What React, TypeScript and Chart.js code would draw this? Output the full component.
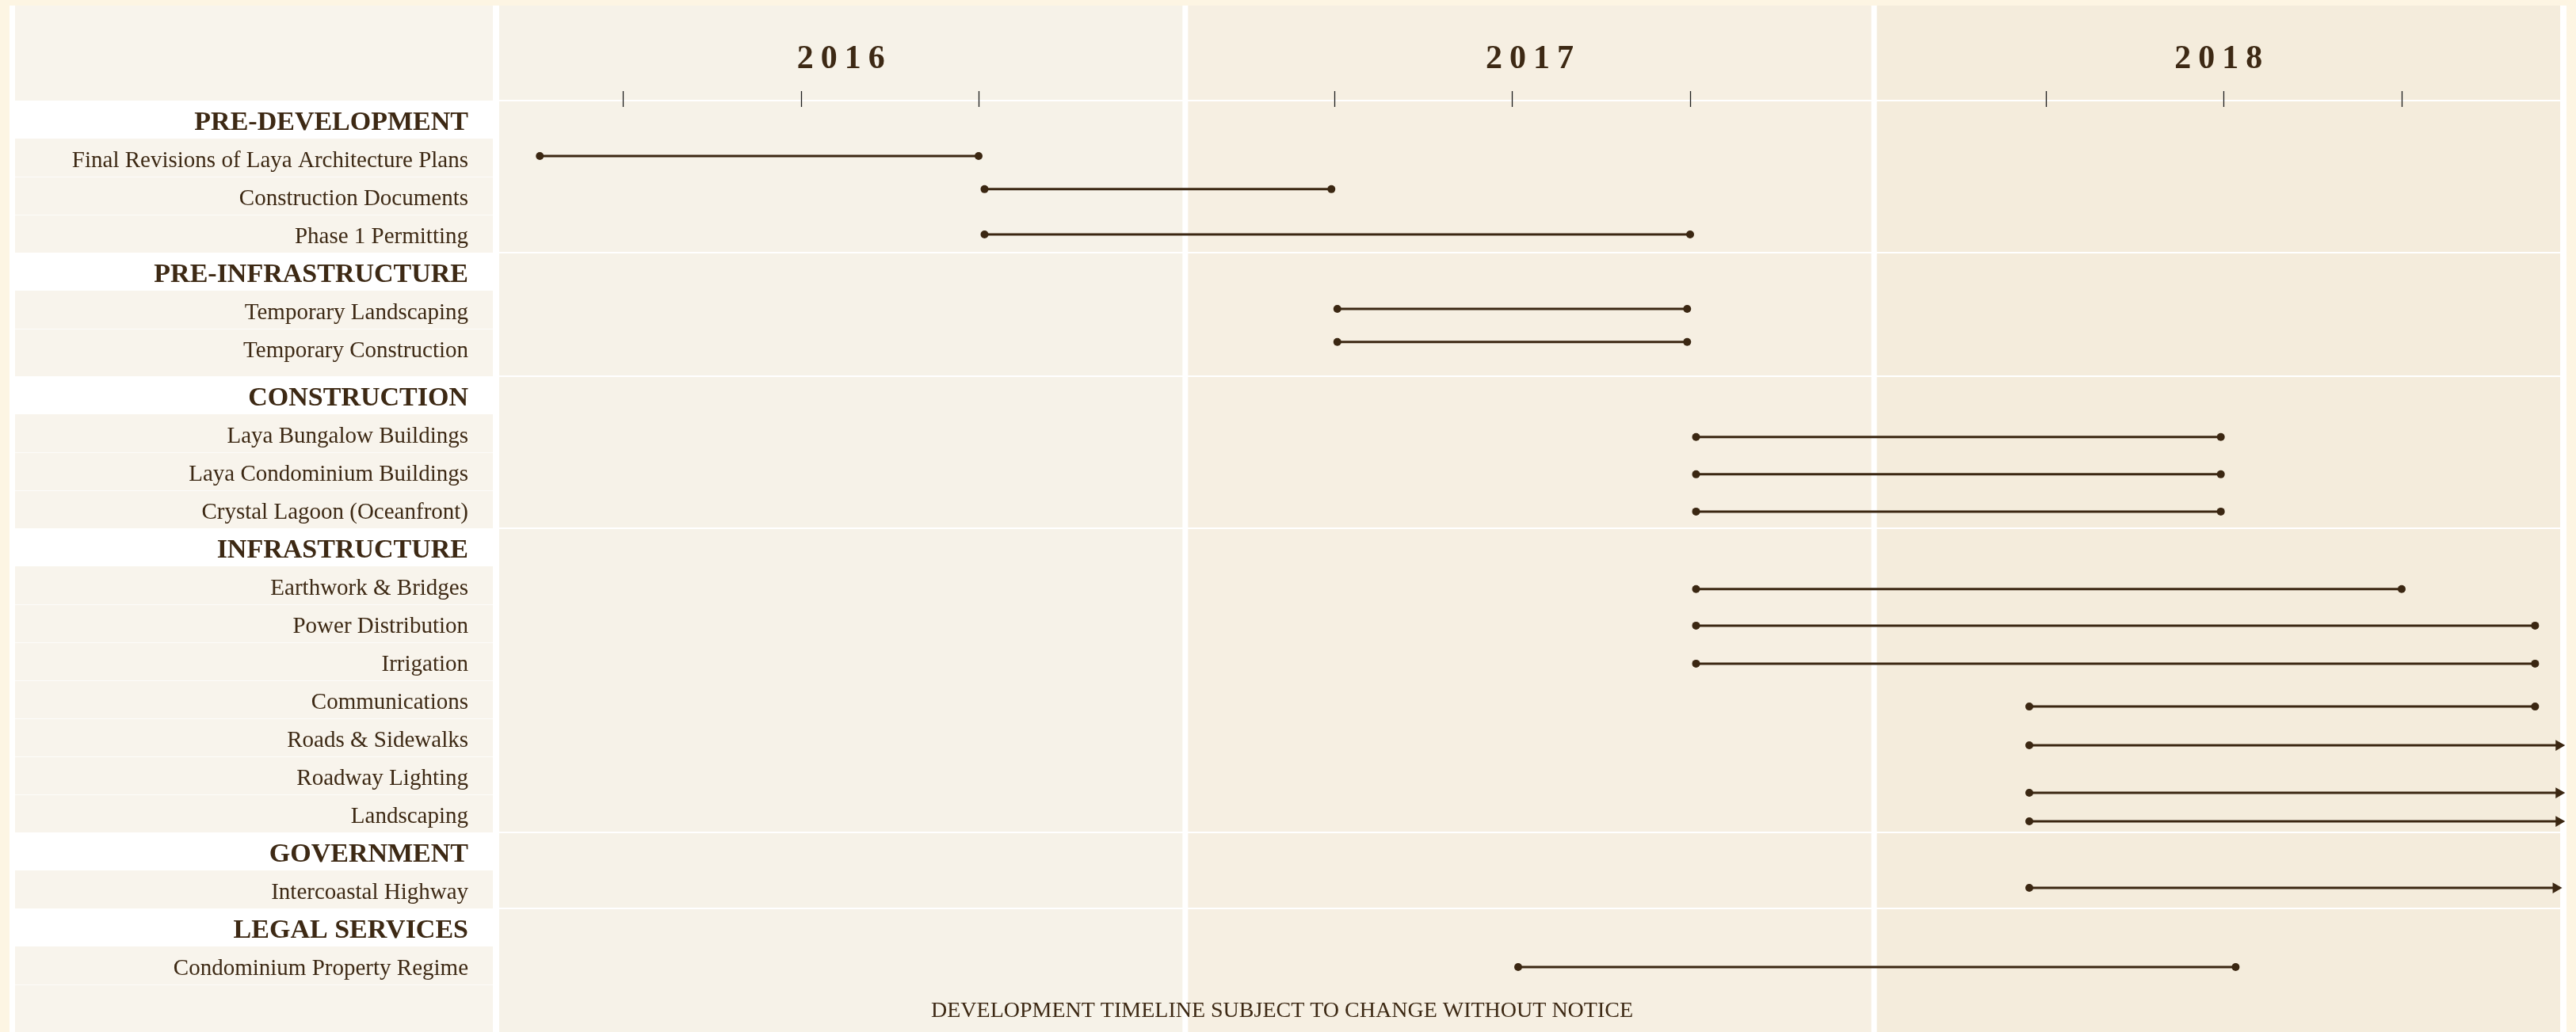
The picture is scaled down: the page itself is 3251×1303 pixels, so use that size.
import React, { useEffect, useRef } from 'react';
import { Chart, registerables } from 'chart.js';

Chart.register(...registerables);

// ---------- data ----------
const YEARS = ['2016', '2017', '2018'];

const ROW_LABELS = [
  'PRE-DEVELOPMENT',
  'Final Revisions of Laya Architecture Plans',
  'Construction Documents',
  'Phase 1 Permitting',
  'PRE-INFRASTRUCTURE',
  'Temporary Landscaping',
  'Temporary Construction',
  'CONSTRUCTION',
  'Laya Bungalow Buildings',
  'Laya Condominium Buildings',
  'Crystal Lagoon (Oceanfront)',
  'INFRASTRUCTURE',
  'Earthwork & Bridges',
  'Power Distribution',
  'Irrigation',
  'Communications',
  'Roads & Sidewalks',
  'Roadway Lighting',
  'Landscaping',
  'GOVERNMENT',
  'Intercoastal Highway',
  'LEGAL SERVICES',
  'Condominium Property Regime',
];
const ROW_IS_HEADER = [
  true, false, false, false,
  true, false, false,
  true, false, false, false,
  true, false, false, false, false, false, false, false,
  true, false,
  true, false,
];
// row centre positions (row units, 0 = top of table body)
const ROW_POS = [
  0.5, 1.5, 2.5, 3.5,
  4.5, 5.5, 6.5,
  7.75, 8.75, 9.75, 10.75,
  11.75, 12.75, 13.75, 14.75, 15.75, 16.75, 17.75, 18.75,
  19.75, 20.75,
  21.75, 22.75,
];

// time axis in months; quarter tick marks
const X_TICKS = [3, 6, 9, 15, 18, 21, 27, 30, 33];

const TASK_NAMES = [
  'Final Revisions of Laya Architecture Plans',
  'Construction Documents',
  'Phase 1 Permitting',
  'Temporary Landscaping',
  'Temporary Construction',
  'Laya Bungalow Buildings',
  'Laya Condominium Buildings',
  'Crystal Lagoon (Oceanfront)',
  'Earthwork & Bridges',
  'Power Distribution',
  'Irrigation',
  'Communications',
  'Roads & Sidewalks',
  'Roadway Lighting',
  'Landscaping',
  'Intercoastal Highway',
  'Condominium Property Regime',
];
const TASK_ROW = [1.46, 2.33, 3.52, 5.48, 6.35, 8.85, 9.83, 10.81, 12.85, 13.81, 14.81, 15.94, 16.96, 18.21, 18.96, 20.71, 22.79];
const TASK_START = [1.6, 9.1, 9.1, 15.05, 15.05, 21.1, 21.1, 21.1, 21.1, 21.1, 21.1, 26.72, 26.72, 26.72, 26.72, 26.72, 18.1];
const TASK_END = [9.0, 14.95, 21.0, 20.95, 20.95, 29.95, 29.95, 29.95, 33.0, 35.25, 35.25, 35.25, 35.65, 35.65, 35.65, 35.6, 30.2];
const TASK_ARROW = [false, false, false, false, false, false, false, false, false, false, false, false, true, true, true, true, false];

// ---------- styling ----------
const W = 3251;
const H = 1303;
const INK = '#3d2914';
const LINE = '#3b2712';
const OUTER = '#fdf5e3';
const PANEL = '#f8f4ec';
const COLS = ['#f6f2e8', '#f6efe2', '#f4ecdc'];
const SERIF = "'Liberation Serif', 'Times New Roman', serif";

const backgroundPlugin = {
  id: 'bgPanels',
  beforeDraw(chart: any) {
    const { ctx, chartArea: ca, scales } = chart;
    const y = scales.y;
    const py = (v: number) => y.getPixelForValue(v);
    ctx.save();
    ctx.fillStyle = OUTER;
    ctx.fillRect(0, 0, W, H);
    ctx.fillStyle = '#ffffff';
    ctx.fillRect(12, 7, 3239 - 12, H - 7);

    // label panel cells
    const headers = ROW_POS.filter((_, i) => ROW_IS_HEADER[i]);
    const pl = 19;
    const pr = ca.left - 8;
    ctx.fillStyle = PANEL;
    ctx.fillRect(pl, 7, pr - pl, py(headers[0] - 0.5) - 7);
    headers.forEach((h, i) => {
      const top = py(h + 0.5);
      const bot = i + 1 < headers.length ? py(headers[i + 1] - 0.5) : H;
      ctx.fillRect(pl, top, pr - pl, bot - top);
    });
    // faint row separators in label panel
    ctx.strokeStyle = 'rgba(255,255,255,0.75)';
    ctx.lineWidth = 1;
    ROW_POS.forEach((p, i) => {
      if (ROW_IS_HEADER[i]) return;
      const nextHeader = i + 1 < ROW_POS.length && ROW_IS_HEADER[i + 1];
      if (nextHeader) return;
      const yy = Math.round(py(p + 0.5)) + 0.5;
      ctx.beginPath();
      ctx.moveTo(pl, yy);
      ctx.lineTo(pr, yy);
      ctx.stroke();
    });

    // year columns
    const gap = 7;
    const colW = (ca.right - ca.left - 2 * gap) / 3;
    YEARS.forEach((yr, i) => {
      const x0 = ca.left + i * (colW + gap);
      ctx.fillStyle = COLS[i];
      ctx.fillRect(x0, 7, colW, H - 7);
    });
    // group separators across the chart area
    ctx.fillStyle = '#ffffff';
    headers.forEach((h) => {
      const yy = py(h - 0.5);
      ctx.fillRect(ca.left, yy - 1, ca.right - ca.left, 2);
    });

    // year headings
    ctx.fillStyle = INK;
    ctx.font = `bold 42px ${SERIF}`;
    ctx.textAlign = 'center';
    ctx.textBaseline = 'alphabetic';
    (ctx as any).letterSpacing = '9px';
    YEARS.forEach((yr, i) => {
      const cx = ca.left + i * (colW + gap) + colW / 2;
      ctx.fillText(yr, cx + 4.5, 86);
    });
    (ctx as any).letterSpacing = '0px';

    // footnote
    ctx.font = `28px ${SERIF}`;
    ctx.textBaseline = 'middle';
    ctx.fillText('DEVELOPMENT TIMELINE SUBJECT TO CHANGE WITHOUT NOTICE', 1618, 1277);
    ctx.restore();
  },
  afterDraw(chart: any) {
    const { ctx, scales } = chart;
    const x = scales.x;
    ctx.save();
    ctx.strokeStyle = '#1f1f1f';
    ctx.lineWidth = 1.3;
    x.ticks.forEach((t: any) => {
      const px = Math.round(x.getPixelForValue(t.value)) + 0.5;
      ctx.beginPath();
      ctx.moveTo(px, 115);
      ctx.lineTo(px, 135);
      ctx.stroke();
    });
    ctx.restore();
  },
};

export default function App() {
  const ref = useRef<HTMLCanvasElement | null>(null);

  useEffect(() => {
    const canvas = ref.current;
    if (!canvas) return;

    const datasets = TASK_NAMES.map((name, i) => ({
      label: name,
      data: [
        { x: TASK_START[i], y: TASK_ROW[i] },
        { x: TASK_END[i], y: TASK_ROW[i] },
      ],
      borderColor: LINE,
      backgroundColor: LINE,
      borderWidth: 3,
      pointBackgroundColor: LINE,
      pointBorderColor: LINE,
      pointBorderWidth: 0,
      pointRadius: TASK_ARROW[i] ? [5, 8] : [5, 5],
      pointStyle: TASK_ARROW[i] ? ['circle', 'triangle'] : ['circle', 'circle'],
      rotation: TASK_ARROW[i] ? [0, 90] : [0, 0],
      showLine: true,
      clip: false as any,
    }));

    const chart = new Chart(canvas, {
      type: 'line',
      data: { datasets },
      plugins: [backgroundPlugin],
      options: {
        responsive: false,
        maintainAspectRatio: false,
        animation: false,
        devicePixelRatio: 1,
        layout: { autoPadding: false, padding: { left: 0, right: W - 3231, top: 127, bottom: 0 } },
        plugins: {
          legend: { display: false },
          tooltip: { enabled: false },
        },
        scales: {
          x: {
            type: 'linear',
            display: false,
            min: 0.915,
            max: 35.673,
            afterBuildTicks: (scale: any) => {
              scale.ticks = X_TICKS.map((v) => ({ value: v }));
            },
          },
          y: {
            type: 'linear',
            position: 'left',
            reverse: true,
            min: 0,
            max: 24.5,
            grid: { display: false, drawTicks: false },
            border: { display: false },
            afterBuildTicks: (scale: any) => {
              scale.ticks = ROW_POS.map((v) => ({ value: v }));
            },
            afterFit: (scale: any) => {
              scale.width = 630;
              scale.paddingTop = 0;
              scale.paddingBottom = 0;
            },
            ticks: {
              autoSkip: false,
              padding: 39,
              labelOffset: 4,
              color: INK,
              callback: (_v: any, idx: number) => ROW_LABELS[idx],
              font: (c: any) =>
                ROW_IS_HEADER[c.index]
                  ? { family: SERIF, size: 34, weight: 'bold' }
                  : { family: SERIF, size: 29, weight: 'normal' },
            },
          },
        },
      } as any,
    });

    return () => chart.destroy();
  }, []);

  return (
    <div style={{ position: 'absolute', left: 0, top: 0, width: W, height: H }}>
      <canvas ref={ref} width={W} height={H} style={{ width: W, height: H, display: 'block' }} />
    </div>
  );
}
